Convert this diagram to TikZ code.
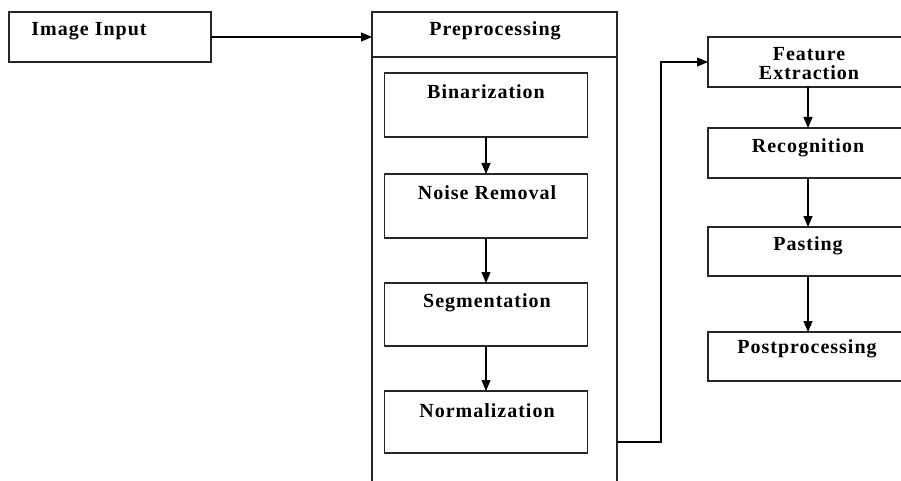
\documentclass[tikz,border=0pt]{standalone}
\usepackage{fontspec}
\setmainfont{Liberation Serif}[LetterSpace=5]
\usetikzlibrary{arrows.meta,calc}
\begin{document}
\begin{tikzpicture}[x=1pt,y=-1pt,
  box/.style={draw=black!85,line width=1.2pt,rectangle,inner sep=0pt,outer sep=0pt},
  lbl/.style={font=\fontsize{20}{19}\selectfont\bfseries,inner sep=0pt,align=center},
  conn/.style={line width=1.1pt,-{Triangle[length=11pt,width=9pt]}}]
\useasboundingbox (0,0) rectangle (901,481);
\clip (0,0) rectangle (901,481);
\fill[white] (0,0) rectangle (901,481);
% left
\node[box,minimum width=202pt,minimum height=50pt] (inp) at (110,37) {};
\node[lbl] (tinp) at (89,31) {Image Input};
% preprocessing
\node[box,minimum width=245pt,minimum height=488pt] (pre) at (494.5,256) {};
\draw[draw=black!85,line width=1.2pt] (pre.west |- 0,57) -- (pre.east |- 0,57);
\node[lbl] (tpre) at (495,31) {Preprocessing};
\node[box,minimum width=203pt,minimum height=64pt] (bin) at (486,105) {};
\node[lbl] (tbin) at (486,92) {Binarization};
\node[box,minimum width=203pt,minimum height=64pt] (noi) at (486,206) {};
\node[lbl] (tnoi) at (487,193) {Noise Removal};
\node[box,minimum width=203pt,minimum height=63pt] (seg) at (486,314.5) {};
\node[lbl] (tseg) at (487,303) {Segmentation};
\node[box,minimum width=203pt,minimum height=62pt] (nor) at (486,422) {};
\node[lbl] (tnor) at (487,411) {Normalization};
% right column
\node[box,minimum width=212pt,minimum height=50pt] (fe) at (814,62) {};
\node[lbl] (tfe) at (809,64) {Feature\\Extraction};
\node[box,minimum width=212pt,minimum height=50pt] (rec) at (814,153) {};
\node[lbl] (trec) at (808,148) {Recognition};
\node[box,minimum width=212pt,minimum height=49pt] (pas) at (814,251.5) {};
\node[lbl] (tpas) at (808,246) {Pasting};
\node[box,minimum width=212pt,minimum height=49pt] (pos) at (814,356.5) {};
\node[lbl] (tpos) at (807,349) {Postprocessing};
% connectors
\draw[conn] (inp.east) -- (pre.west |- inp.east);
\draw[conn] (bin.south) -- (noi.north);
\draw[conn] (noi.south) -- (seg.north);
\draw[conn] (seg.south) -- (nor.north);
\coordinate (bend) at (661,442);
\draw[conn] (pre.east |- bend) -- (bend) |- (fe.west);
\draw[conn] (808,87) -- (808,128);
\draw[conn] (808,178) -- (808,227);
\draw[conn] (808,276) -- (808,332);
\end{tikzpicture}
\end{document}
